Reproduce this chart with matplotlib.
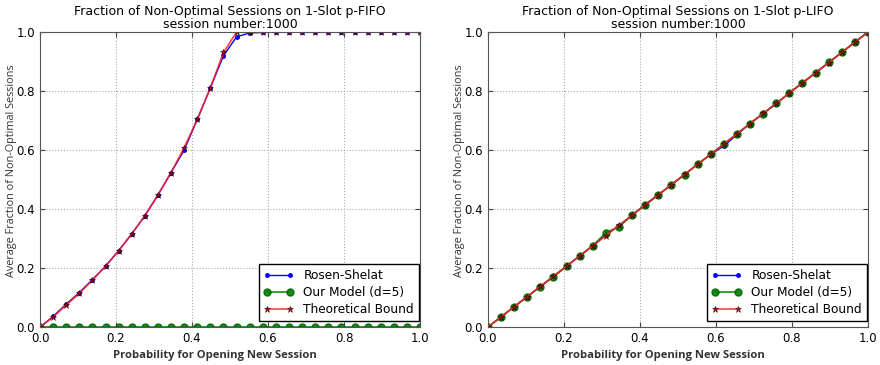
import numpy as np
import matplotlib
matplotlib.use("Agg")
import matplotlib.pyplot as plt

# probabilities for opening a new session
p = np.linspace(0, 1, 30)

# p-FIFO
fifo_rosen = [0.0, 0.036, 0.078, 0.117, 0.161, 0.206, 0.259, 0.316, 0.377, 0.448, 0.524,
              0.600, 0.704, 0.811, 0.920, 0.984, 0.997, 0.999, 1.0, 1.0, 1.0,
              1.0, 1.0, 1.0, 1.0, 1.0, 1.0, 1.0, 1.0, 1.0]
fifo_model = [0.0] * 30
fifo_bound = [0.0, 0.034, 0.075, 0.114, 0.159, 0.207, 0.259, 0.316, 0.377, 0.448, 0.524,
              0.608, 0.704, 0.811, 0.931, 1.0, 1.0, 1.0, 1.0, 1.0, 1.0,
              1.0, 1.0, 1.0, 1.0, 1.0, 1.0, 1.0, 1.0, 1.0]

# p-LIFO
lifo_rosen = [0.0, 0.035, 0.069, 0.103, 0.138, 0.172, 0.207, 0.241, 0.275, 0.311, 0.344,
              0.379, 0.416, 0.449, 0.482, 0.517, 0.552, 0.585, 0.614, 0.652, 0.690,
              0.724, 0.757, 0.794, 0.828, 0.862, 0.896, 0.931, 0.966, 1.0]
lifo_model = [0.0, 0.034, 0.069, 0.103, 0.137, 0.170, 0.206, 0.241, 0.276, 0.320, 0.340,
              0.379, 0.413, 0.448, 0.483, 0.517, 0.552, 0.586, 0.620, 0.655, 0.690,
              0.724, 0.758, 0.793, 0.828, 0.862, 0.897, 0.931, 0.966, 1.0]
lifo_bound = list(p)

titles = ["Fraction of Non-Optimal Sessions on 1-Slot p-FIFO\nsession number:1000",
          "Fraction of Non-Optimal Sessions on 1-Slot p-LIFO\nsession number:1000"]
data = [(fifo_rosen, fifo_model, fifo_bound), (lifo_rosen, lifo_model, lifo_bound)]

fig = plt.figure(figsize=(8.8, 3.65), dpi=100)
positions = [[0.0455, 0.104, 0.4318, 0.808], [0.5545, 0.104, 0.4318, 0.808]]

for i in range(2):
    ax = fig.add_axes(positions[i])
    rosen, model, bound = data[i]
    ax.plot(p, rosen, color="blue", marker=".", markersize=5, linewidth=1,
            markeredgecolor="blue", label="Rosen-Shelat")
    ax.plot(p, model, color="green", marker="o", markersize=5, linewidth=1.2,
            markerfacecolor="green", markeredgecolor="darkgreen", alpha=0.9,
            label="Our Model (d=5)")
    ax.plot(p, bound, color="#ff2020", marker="*", markersize=5, linewidth=1.2,
            markerfacecolor="#b00000", markeredgecolor="#400000", markeredgewidth=0.5,
            alpha=0.85, label="Theoretical Bound")
    ax.set_xlim(0, 1)
    ax.set_ylim(0, 1)
    ax.set_xticks([0.0, 0.2, 0.4, 0.6, 0.8, 1.0])
    ax.set_yticks([0.0, 0.2, 0.4, 0.6, 0.8, 1.0])
    ax.grid(True, linestyle=":", color="#aaaaaa", linewidth=0.8)
    ax.tick_params(direction="in", labelsize=8.5, color="#444444", top=True, right=True)
    for s in ax.spines.values():
        s.set_color("#555555")
    ax.set_title(titles[i], fontsize=9, linespacing=1.0, pad=3)
    ax.set_xlabel("Probability for Opening New Session", fontsize=8.1,
                  family="Open Sans", fontweight="bold", color="#333333")
    ax.xaxis.set_label_coords(0.46, -0.078)
    ax.set_ylabel("Average Fraction of Non-Optimal Sessions", fontsize=7.8,
                  family="Open Sans", color="#333333")
    ax.yaxis.set_label_coords(-0.06, 0.53)
    leg = ax.legend(loc="lower right", bbox_to_anchor=(0.997, 0.02), borderaxespad=0,
                    fontsize=8.7, numpoints=2, fancybox=False, framealpha=1,
                    borderpad=0.4, labelspacing=0.35, handlelength=2.5)
    leg.get_frame().set_edgecolor("black")

fig.savefig("out.png", dpi=100)
